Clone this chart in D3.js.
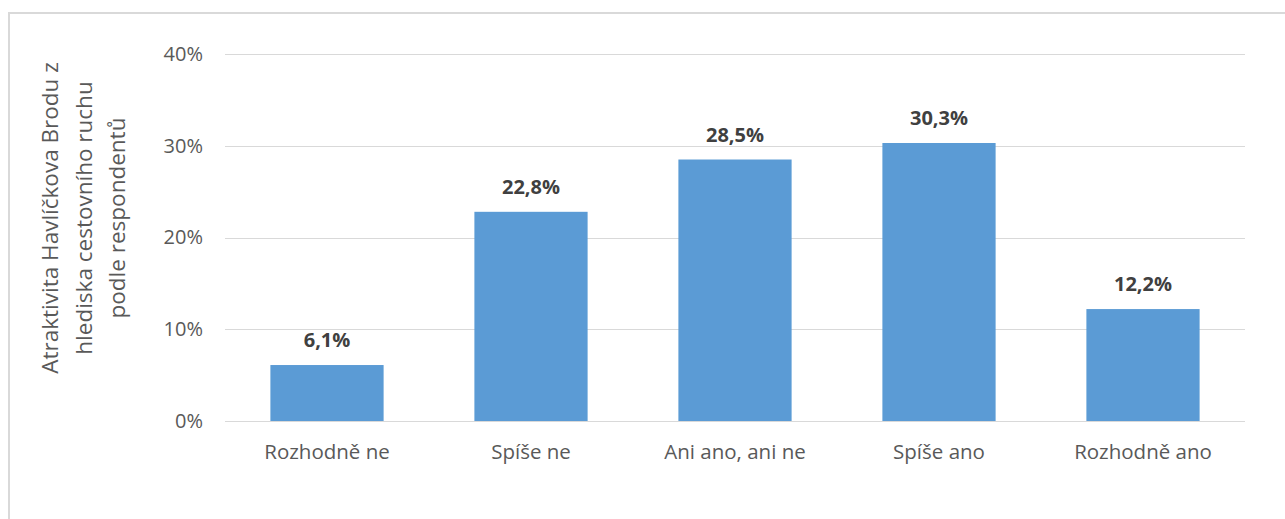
<!doctype html>
<html>
<head>
<meta charset="UTF-8">
<title>Atraktivita Havlíčkova Brodu</title>
<script src="https://d3js.org/d3.v7.min.js"></script>
<style>
  body { margin: 0; background: #fff; }
  text { font-family: "Open Sans", "Liberation Sans", sans-serif; }
</style>
</head>
<body>
<svg width="1285" height="519" id="chart"></svg>
<script>
var categories = ["Rozhodně ne", "Spíše ne", "Ani ano, ani ne", "Spíše ano", "Rozhodně ano"];
var values = [6.1, 22.8, 28.5, 30.3, 12.2];
var yTicks = [0, 10, 20, 30, 40];
var titleLines = ["Atraktivita Havlíčkova Brodu z", "hlediska cestovního ruchu", "podle respondentů"];

var svg = d3.select("#chart");

// ramecek grafu
svg.append("rect").attr("x", 9).attr("y", 13).attr("width", 1290).attr("height", 520)
  .attr("fill", "none").attr("stroke", "#d9d9d9").attr("stroke-width", 2);

var plotLeft = 225, plotRight = 1245, plotTop = 54, plotBottom = 421;

var x = d3.scaleBand().domain(categories).range([plotLeft, plotRight])
  .paddingInner(0.445).paddingOuter(0.2225);
var y = d3.scaleLinear().domain([0, 40]).range([plotBottom, plotTop]);

// mrizka
svg.append("g").selectAll("line").data(yTicks).enter().append("line")
  .attr("x1", plotLeft).attr("x2", plotRight)
  .attr("y1", function(d){ return Math.round(y(d)) + 0.5; })
  .attr("y2", function(d){ return Math.round(y(d)) + 0.5; })
  .attr("stroke", "#d9d9d9").attr("stroke-width", 1);

// osa y
var yAxis = d3.axisLeft(y).tickValues(yTicks).tickSize(0).tickPadding(22)
  .tickFormat(function(d){ return d + "%"; });
var gy = svg.append("g").attr("transform", "translate(" + plotLeft + ",0)").call(yAxis);
gy.select(".domain").remove();
gy.selectAll("text").attr("fill", "#595959").style("font-size", "20px")
  .style("font-family", "'Open Sans', sans-serif");

// sloupce
svg.append("g").selectAll("rect").data(values).enter().append("rect")
  .attr("x", function(d, i){ return x(categories[i]); })
  .attr("y", function(d){ return y(d); })
  .attr("width", x.bandwidth())
  .attr("height", function(d){ return plotBottom - y(d); })
  .attr("fill", "#5b9bd5");

// popisky hodnot
svg.append("g").selectAll("text").data(values).enter().append("text")
  .attr("x", function(d, i){ return x(categories[i]) + x.bandwidth() / 2; })
  .attr("y", function(d){ return y(d) - 18; })
  .attr("text-anchor", "middle")
  .attr("fill", "#404040").style("font-size", "20px").style("font-weight", "bold")
  .text(function(d){ return String(d.toFixed(1)).replace(".", ",") + "%"; });

// osa x
var xAxis = d3.axisBottom(x).tickSize(0).tickPadding(23);
var gx = svg.append("g").attr("transform", "translate(0," + plotBottom + ")").call(xAxis);
gx.select(".domain").remove();
gx.selectAll("text").attr("fill", "#595959").style("font-size", "20.5px")
  .style("font-family", "'Open Sans', sans-serif");

// nazev osy y
var title = svg.append("text").attr("transform", "translate(58,218) rotate(-90)")
  .attr("text-anchor", "middle").attr("fill", "#595959").style("font-size", "22.5px");
title.selectAll("tspan").data(titleLines).enter().append("tspan")
  .attr("x", 0).attr("y", function(d, i){ return i * 33.5; })
  .text(function(d){ return d; });
</script>
</body>
</html>
